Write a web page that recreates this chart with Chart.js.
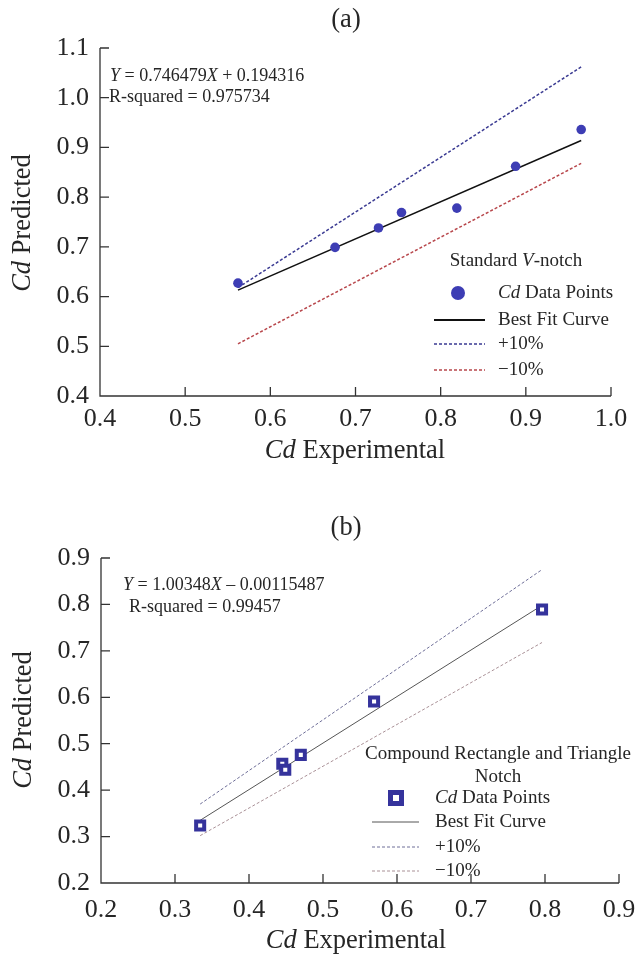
<!DOCTYPE html>
<html>
<head>
<meta charset="utf-8">
<script src="https://cdn.jsdelivr.net/npm/chart.js@4.4.1/dist/chart.umd.min.js"></script>
<style>
  html, body { margin: 0; padding: 0; background: #fff; }
  .panel { position: absolute; left: 0; width: 637px; }
  #wrapA { top: 0; height: 480px; }
  #wrapB { top: 480px; height: 475px; }
</style>
</head>
<body>
<div id="wrapA" class="panel"><canvas id="chartA" width="637" height="480"></canvas></div>
<div id="wrapB" class="panel"><canvas id="chartB" width="637" height="475"></canvas></div>
<script>
// (a) Standard V-notch
const expA = [0.562, 0.676, 0.727, 0.754, 0.819, 0.888, 0.965];
const predA = [0.627, 0.699, 0.738, 0.769, 0.778, 0.862, 0.936];
const lineXA = [0.562, 0.965];
const fitA = [0.613, 0.914];
const plusA = [0.618, 1.062];
const minusA = [0.505, 0.868];
const xTicksA = [0.4, 0.5, 0.6, 0.7, 0.8, 0.9, 1.0];
const yTicksA = [0.4, 0.5, 0.6, 0.7, 0.8, 0.9, 1.0, 1.1];

// (b) Compound rectangle and triangle notch
const expB = [0.334, 0.445, 0.449, 0.470, 0.569, 0.796];
const predB = [0.324, 0.457, 0.444, 0.476, 0.591, 0.789];
const lineXB = [0.334, 0.796];
const fitB = [0.335, 0.798];
const plusB = [0.370, 0.875];
const minusB = [0.302, 0.718];
const xTicksB = [0.2, 0.3, 0.4, 0.5, 0.6, 0.7, 0.8, 0.9];
const yTicksB = [0.2, 0.3, 0.4, 0.5, 0.6, 0.7, 0.8, 0.9];

const FONT = '"Liberation Serif", "DejaVu Serif", serif';
const INK = "#262626";
const TICK_SIZE = 26;
const TITLE_SIZE = 26.5;
const EQ_SIZE = 18;
const LEG_SIZE = 19;

const pts = (xs, ys) => xs.map((x, i) => ({ x, y: ys[i] }));

function runsWidth(ctx, runs, size) {
  return runs.reduce((w, r) => {
    ctx.font = `${r.i ? "italic " : ""}${size}px ${FONT}`;
    return w + ctx.measureText(r.t).width;
  }, 0);
}

function drawRuns(ctx, runs, x, y, size, align = "left") {
  let cx = align === "center" ? x - runsWidth(ctx, runs, size) / 2 : x;
  ctx.textBaseline = "middle";
  ctx.textAlign = "left";
  ctx.fillStyle = INK;
  for (const r of runs) {
    ctx.font = `${r.i ? "italic " : ""}${size}px ${FONT}`;
    ctx.fillText(r.t, cx, y);
    cx += ctx.measureText(r.t).width;
  }
}

function drawMarker(ctx, m, x, y) {
  if (m.kind === "circle") {
    ctx.beginPath();
    ctx.arc(x, y, m.r, 0, Math.PI * 2);
    ctx.fillStyle = m.color;
    ctx.fill();
  } else if (m.kind === "square") {
    ctx.fillStyle = m.color;
    ctx.fillRect(x - m.size / 2, y - m.size / 2, m.size, m.size);
    ctx.fillStyle = "#fff";
    ctx.fillRect(x - m.hole / 2, y - m.hole / 2, m.hole, m.hole);
  } else {
    ctx.beginPath();
    ctx.setLineDash(m.dash || []);
    ctx.strokeStyle = m.color;
    ctx.lineWidth = m.width;
    ctx.moveTo(m.x0, y);
    ctx.lineTo(m.x1, y);
    ctx.stroke();
    ctx.setLineDash([]);
  }
}

// axes with inward ticks, titles, equation and legend
function decor(opts) {
  return {
    id: "decor",
    afterDraw(chart) {
      const { ctx, chartArea: a, scales } = chart;
      ctx.save();
      ctx.strokeStyle = "#333";
      ctx.lineWidth = 1.3;
      ctx.beginPath();
      ctx.moveTo(a.left, a.top);
      ctx.lineTo(a.left, a.bottom);
      ctx.lineTo(a.right, a.bottom);
      for (const t of scales.y.ticks) {
        const py = scales.y.getPixelForValue(t.value);
        ctx.moveTo(a.left, py);
        ctx.lineTo(a.left + 9, py);
      }
      for (const t of scales.x.ticks) {
        const px = scales.x.getPixelForValue(t.value);
        ctx.moveTo(px, a.bottom);
        ctx.lineTo(px, a.bottom - 9);
      }
      ctx.stroke();

      drawRuns(ctx, [{ t: opts.panel }], opts.panelX, opts.panelY, TITLE_SIZE, "center");
      drawRuns(ctx, [{ t: "Cd", i: true }, { t: " Experimental" }], opts.xTitle[0], opts.xTitle[1], TITLE_SIZE, "center");
      ctx.save();
      ctx.translate(opts.yTitle[0], opts.yTitle[1]);
      ctx.rotate(-Math.PI / 2);
      drawRuns(ctx, [{ t: "Cd", i: true }, { t: " Predicted" }], 0, 0, TITLE_SIZE, "center");
      ctx.restore();

      for (const e of opts.eq) drawRuns(ctx, e.runs, e.x, e.y, EQ_SIZE);

      for (const h of opts.legendHead) drawRuns(ctx, h.runs, h.x, h.y, LEG_SIZE, "center");
      for (const row of opts.legend) {
        drawMarker(ctx, row.m, row.mx, row.y);
        drawRuns(ctx, row.runs, opts.legendTextX, row.y, LEG_SIZE);
      }
      ctx.restore();
    },
  };
}

function axis(min, max, tickList, width, height, pad) {
  return {
    type: "linear",
    min,
    max,
    grid: { display: false, drawTicks: false },
    border: { display: false },
    afterBuildTicks: (s) => { s.ticks = tickList.map((v) => ({ value: v })); },
    afterFit: (s) => {
      if (width) { s.width = width; s.paddingTop = 0; s.paddingBottom = 0; }
      if (height) { s.height = height; s.paddingLeft = 0; s.paddingRight = 0; }
    },
    ticks: {
      color: INK,
      font: { family: FONT, size: TICK_SIZE },
      padding: pad,
      callback: (v) => Number(v).toFixed(1),
    },
  };
}

function build(canvasId, cfg) {
  return new Chart(document.getElementById(canvasId), {
    type: "scatter",
    data: {
      datasets: [
        {
          data: pts(cfg.x, cfg.y),
          pointStyle: cfg.pointStyle,
          pointRadius: cfg.pointRadius,
          pointBackgroundColor: cfg.pointFill,
          pointBorderColor: cfg.pointColor,
          pointBorderWidth: cfg.pointBorder,
          showLine: false,
          order: 0,
        },
        { data: pts(cfg.lx, cfg.fit), showLine: true, pointRadius: 0, borderColor: cfg.fitColor, borderWidth: cfg.lineWidth, order: 1 },
        { data: pts(cfg.lx, cfg.plus), showLine: true, pointRadius: 0, borderColor: cfg.plusColor, borderWidth: cfg.lineWidth, borderDash: [3, 2], order: 2 },
        { data: pts(cfg.lx, cfg.minus), showLine: true, pointRadius: 0, borderColor: cfg.minusColor, borderWidth: cfg.lineWidth, borderDash: [3, 2], order: 3 },
      ],
    },
    options: {
      responsive: false,
      animation: false,
      layout: { padding: cfg.padding },
      plugins: { legend: { display: false }, tooltip: { enabled: false } },
      scales: {
        x: axis(cfg.xMin, cfg.xMax, cfg.xTicks, 0, cfg.xHeight, cfg.xPad),
        y: axis(cfg.yMin, cfg.yMax, cfg.yTicks, cfg.yWidth, 0, 11),
      },
    },
    plugins: [decor(cfg.decor)],
  });
}

const blueA = "#3d3db4";
build("chartA", {
  x: expA, y: predA, lx: lineXA, fit: fitA, plus: plusA, minus: minusA,
  pointStyle: "circle", pointRadius: 4.8, pointFill: blueA, pointColor: blueA, pointBorder: 0,
  fitColor: "#111", plusColor: "#3a3a92", minusColor: "#b8474c", lineWidth: 1.5,
  xMin: 0.4, xMax: 1.0, yMin: 0.4, yMax: 1.1, xTicks: xTicksA, yTicks: yTicksA,
  padding: { top: 48, right: 26, left: 0, bottom: 0 }, yWidth: 100, xHeight: 84, xPad: 8,
  decor: {
    panel: "(a)", panelX: 346, panelY: 20,
    xTitle: [355, 451], yTitle: [23, 223],
    eq: [
      { x: 110, y: 76, runs: [{ t: "Y", i: true }, { t: " = 0.746479" }, { t: "X", i: true }, { t: " + 0.194316" }] },
      { x: 109, y: 97, runs: [{ t: "R-squared = 0.975734" }] },
    ],
    legendHead: [{ x: 516, y: 261, runs: [{ t: "Standard " }, { t: "V", i: true }, { t: "-notch" }] }],
    legendTextX: 498,
    legend: [
      { y: 293, mx: 458, m: { kind: "circle", r: 7, color: blueA }, runs: [{ t: "Cd", i: true }, { t: " Data Points" }] },
      { y: 320, m: { kind: "line", x0: 434, x1: 485, color: "#111", width: 1.8 }, runs: [{ t: "Best Fit Curve" }] },
      { y: 344, m: { kind: "line", x0: 434, x1: 485, color: "#3a3a92", width: 1.5, dash: [3, 2] }, runs: [{ t: "+10%" }] },
      { y: 370, m: { kind: "line", x0: 434, x1: 485, color: "#b8474c", width: 1.5, dash: [3, 2] }, runs: [{ t: "\u221210%" }] },
    ],
  },
});

const blueB = "#35339c";
build("chartB", {
  x: expB, y: predB, lx: lineXB, fit: fitB, plus: plusB, minus: minusB,
  pointStyle: "rect", pointRadius: 5.7, pointFill: "#fff", pointColor: blueB, pointBorder: 4,
  fitColor: "#555", plusColor: "#6e6e98", minusColor: "#a99096", lineWidth: 1,
  xMin: 0.2, xMax: 0.9, yMin: 0.2, yMax: 0.9, xTicks: xTicksB, yTicks: yTicksB,
  padding: { top: 78, right: 18, left: 0, bottom: 0 }, yWidth: 101, xHeight: 72, xPad: 12,
  decor: {
    panel: "(b)", panelX: 346, panelY: 48,
    xTitle: [356, 461], yTitle: [24, 240],
    eq: [
      { x: 123, y: 105, runs: [{ t: "Y", i: true }, { t: " = 1.00348" }, { t: "X", i: true }, { t: " \u2013 0.00115487" }] },
      { x: 129, y: 127, runs: [{ t: "R-squared = 0.99457" }] },
    ],
    legendHead: [
      { x: 498, y: 274, runs: [{ t: "Compound Rectangle and Triangle" }] },
      { x: 498, y: 297, runs: [{ t: "Notch" }] },
    ],
    legendTextX: 435,
    legend: [
      { y: 318, mx: 396, m: { kind: "square", size: 16, hole: 6, color: blueB }, runs: [{ t: "Cd", i: true }, { t: " Data Points" }] },
      { y: 342, m: { kind: "line", x0: 372, x1: 419, color: "#555", width: 1 }, runs: [{ t: "Best Fit Curve" }] },
      { y: 367, m: { kind: "line", x0: 372, x1: 419, color: "#6e6e98", width: 1, dash: [3, 2] }, runs: [{ t: "+10%" }] },
      { y: 391, m: { kind: "line", x0: 372, x1: 419, color: "#a99096", width: 1, dash: [3, 2] }, runs: [{ t: "\u221210%" }] },
    ],
  },
});
</script>
</body>
</html>
